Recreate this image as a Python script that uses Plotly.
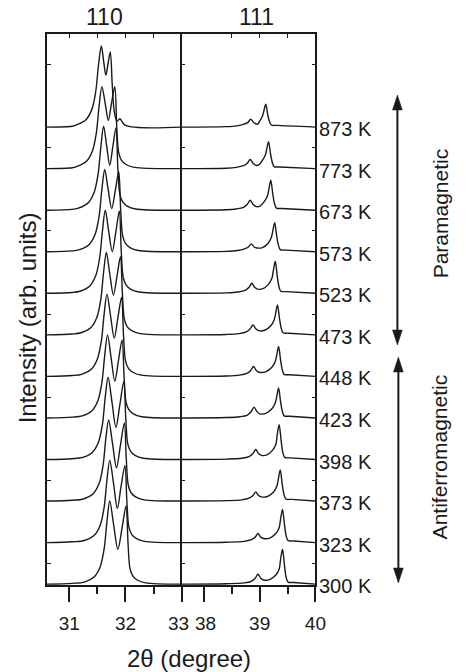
import plotly.graph_objects as go

# ---------------- data ----------------
temperatures = [300, 323, 373, 398, 423, 448, 473, 523, 573, 673, 773, 873]
temp_labels = [f"{t} K" for t in temperatures]
stack_offset = [0, 1, 2, 3, 4, 5, 6, 7, 8, 9, 10, 11]

# (110) reflection, 2theta and intensity above each curve's own baseline
left_x = [
    [30.6, 31.05, 31.27, 31.44, 31.55, 31.62, 31.67, 31.72, 31.79, 31.865, 31.94, 32.01, 32.045, 32.08, 32.13, 32.21, 32.36, 33.0],
    [30.6, 31.05, 31.27, 31.44, 31.55, 31.62, 31.67, 31.72, 31.79, 31.855, 31.92, 31.99, 32.025, 32.06, 32.11, 32.19, 32.34, 33.0],
    [30.6, 31.05, 31.25, 31.42, 31.53, 31.60, 31.65, 31.70, 31.77, 31.84, 31.91, 31.98, 32.015, 32.05, 32.10, 32.18, 32.33, 33.0],
    [30.6, 31.05, 31.24, 31.41, 31.52, 31.59, 31.64, 31.69, 31.76, 31.83, 31.90, 31.97, 32.005, 32.04, 32.09, 32.17, 32.32, 33.0],
    [30.6, 31.05, 31.23, 31.40, 31.51, 31.58, 31.63, 31.68, 31.745, 31.81, 31.875, 31.94, 31.975, 32.01, 32.06, 32.14, 32.29, 33.0],
    [30.6, 31.05, 31.22, 31.39, 31.50, 31.57, 31.62, 31.67, 31.735, 31.80, 31.865, 31.93, 31.965, 32.00, 32.05, 32.13, 32.28, 33.0],
    [30.6, 31.05, 31.21, 31.38, 31.49, 31.56, 31.61, 31.66, 31.72, 31.785, 31.85, 31.91, 31.945, 31.98, 32.03, 32.11, 32.26, 33.0],
    [30.6, 31.05, 31.19, 31.36, 31.47, 31.54, 31.59, 31.64, 31.70, 31.765, 31.83, 31.89, 31.925, 31.96, 32.01, 32.09, 32.24, 33.0],
    [30.6, 31.05, 31.18, 31.35, 31.46, 31.53, 31.58, 31.63, 31.69, 31.755, 31.82, 31.88, 31.915, 31.95, 32.00, 32.08, 32.23, 33.0],
    [30.6, 31.05, 31.16, 31.33, 31.44, 31.51, 31.56, 31.61, 31.665, 31.72, 31.775, 31.83, 31.865, 31.90, 31.95, 32.03, 32.18, 33.0],
    [30.6, 31.05, 31.13, 31.30, 31.41, 31.48, 31.53, 31.58, 31.64, 31.695, 31.75, 31.81, 31.845, 31.88, 31.93, 32.01, 32.16, 33.0],
    [30.6, 31.05, 31.12, 31.29, 31.40, 31.47, 31.52, 31.57, 31.61, 31.65, 31.69, 31.73, 31.765, 31.80, 31.85, 31.90, 32.00, 33.0],
]
left_y = [
    [0, 0.02, 0.05, 0.17, 0.42, 0.85, 1.5, 2.00, 1.42, 0.84, 1.36, 1.88, 1.0, 0.38, 0.2, 0.1, 0.03, 0],
    [0, 0.02, 0.05, 0.17, 0.42, 0.85, 1.5, 1.98, 1.40, 0.82, 1.34, 1.86, 1.0, 0.38, 0.2, 0.1, 0.03, 0],
    [0, 0.02, 0.05, 0.17, 0.42, 0.85, 1.5, 1.95, 1.38, 0.80, 1.34, 1.88, 1.0, 0.38, 0.2, 0.1, 0.03, 0],
    [0, 0.02, 0.05, 0.17, 0.42, 0.85, 1.5, 1.98, 1.38, 0.77, 1.32, 1.88, 1.0, 0.38, 0.2, 0.1, 0.03, 0],
    [0, 0.02, 0.05, 0.17, 0.42, 0.85, 1.5, 2.00, 1.44, 0.88, 1.38, 1.88, 1.0, 0.38, 0.2, 0.1, 0.03, 0],
    [0, 0.02, 0.05, 0.17, 0.42, 0.85, 1.5, 1.98, 1.45, 0.92, 1.41, 1.90, 1.0, 0.38, 0.2, 0.1, 0.03, 0],
    [0, 0.02, 0.05, 0.17, 0.42, 0.85, 1.5, 1.98, 1.47, 0.96, 1.42, 1.88, 1.0, 0.38, 0.2, 0.1, 0.03, 0],
    [0, 0.02, 0.05, 0.17, 0.42, 0.85, 1.5, 2.00, 1.50, 1.00, 1.49, 1.98, 1.0, 0.38, 0.2, 0.1, 0.03, 0],
    [0, 0.02, 0.05, 0.17, 0.42, 0.85, 1.5, 1.98, 1.51, 1.04, 1.48, 1.93, 1.0, 0.38, 0.2, 0.1, 0.03, 0],
    [0, 0.02, 0.05, 0.17, 0.42, 0.85, 1.5, 2.02, 1.55, 1.08, 1.53, 1.98, 1.0, 0.38, 0.2, 0.1, 0.03, 0],
    [0, 0.02, 0.05, 0.17, 0.42, 0.85, 1.5, 1.97, 1.56, 1.16, 1.56, 1.97, 1.0, 0.38, 0.2, 0.1, 0.03, 0],
    [0, 0.02, 0.05, 0.17, 0.42, 0.85, 1.5, 1.95, 1.60, 1.25, 1.53, 1.81, 1.0, 0.38, 0.14, 0.2, 0.04, 0],
]

# (111) reflection
right_x = [
    [37.6, 38.4, 38.72, 38.85, 38.92, 38.97, 39.02, 39.07, 39.18, 39.29, 39.35, 39.375, 39.41, 39.445, 39.475, 39.51, 39.61, 40.0],
    [37.6, 38.4, 38.72, 38.85, 38.92, 38.97, 39.02, 39.07, 39.18, 39.29, 39.35, 39.375, 39.41, 39.445, 39.475, 39.51, 39.61, 40.0],
    [37.6, 38.4, 38.68, 38.81, 38.88, 38.93, 38.98, 39.03, 39.14, 39.25, 39.31, 39.335, 39.37, 39.405, 39.435, 39.47, 39.57, 40.0],
    [37.6, 38.4, 38.68, 38.81, 38.88, 38.93, 38.98, 39.03, 39.13, 39.23, 39.29, 39.315, 39.35, 39.385, 39.415, 39.45, 39.55, 40.0],
    [37.6, 38.4, 38.65, 38.78, 38.85, 38.90, 38.95, 39.00, 39.11, 39.22, 39.28, 39.305, 39.34, 39.375, 39.405, 39.44, 39.54, 40.0],
    [37.6, 38.4, 38.64, 38.77, 38.84, 38.89, 38.94, 38.99, 39.105, 39.22, 39.28, 39.305, 39.34, 39.375, 39.405, 39.44, 39.54, 40.0],
    [37.6, 38.4, 38.63, 38.76, 38.83, 38.88, 38.93, 38.98, 39.09, 39.20, 39.26, 39.285, 39.32, 39.355, 39.385, 39.42, 39.52, 40.0],
    [37.6, 38.4, 38.61, 38.74, 38.81, 38.86, 38.91, 38.96, 39.06, 39.16, 39.22, 39.245, 39.28, 39.315, 39.345, 39.38, 39.48, 40.0],
    [37.6, 38.4, 38.60, 38.73, 38.80, 38.85, 38.90, 38.95, 39.05, 39.15, 39.21, 39.235, 39.27, 39.305, 39.335, 39.37, 39.47, 40.0],
    [37.6, 38.4, 38.58, 38.71, 38.78, 38.83, 38.88, 38.93, 39.005, 39.08, 39.14, 39.165, 39.20, 39.235, 39.265, 39.30, 39.40, 40.0],
    [37.6, 38.4, 38.58, 38.71, 38.78, 38.83, 38.88, 38.93, 38.985, 39.04, 39.10, 39.125, 39.16, 39.195, 39.225, 39.26, 39.36, 40.0],
    [37.6, 38.4, 38.59, 38.72, 38.79, 38.84, 38.89, 38.94, 38.965, 38.99, 39.05, 39.075, 39.11, 39.145, 39.175, 39.21, 39.31, 40.0],
]
right_y = [
    [0, 0.01, 0.03, 0.07, 0.144, 0.24, 0.144, 0.10, 0.11, 0.22, 0.36, 0.59, 0.84, 0.46, 0.17, 0.05, 0.04, 0],
    [0, 0.01, 0.03, 0.07, 0.132, 0.22, 0.132, 0.10, 0.11, 0.22, 0.36, 0.56, 0.80, 0.44, 0.17, 0.05, 0.04, 0],
    [0, 0.01, 0.03, 0.07, 0.132, 0.22, 0.132, 0.10, 0.11, 0.22, 0.36, 0.525, 0.75, 0.41, 0.17, 0.05, 0.04, 0],
    [0, 0.01, 0.03, 0.07, 0.144, 0.24, 0.144, 0.10, 0.11, 0.22, 0.36, 0.59, 0.84, 0.46, 0.17, 0.05, 0.04, 0],
    [0, 0.01, 0.03, 0.07, 0.156, 0.26, 0.156, 0.10, 0.11, 0.22, 0.36, 0.50, 0.72, 0.40, 0.17, 0.05, 0.04, 0],
    [0, 0.01, 0.03, 0.07, 0.144, 0.24, 0.144, 0.10, 0.11, 0.22, 0.36, 0.50, 0.72, 0.40, 0.17, 0.05, 0.04, 0],
    [0, 0.01, 0.03, 0.07, 0.144, 0.24, 0.144, 0.10, 0.11, 0.22, 0.36, 0.50, 0.72, 0.40, 0.17, 0.05, 0.04, 0],
    [0, 0.01, 0.03, 0.07, 0.144, 0.24, 0.144, 0.10, 0.11, 0.22, 0.36, 0.54, 0.77, 0.42, 0.17, 0.05, 0.04, 0],
    [0, 0.01, 0.03, 0.07, 0.114, 0.19, 0.114, 0.09, 0.10, 0.20, 0.34, 0.49, 0.70, 0.385, 0.17, 0.05, 0.04, 0],
    [0, 0.01, 0.03, 0.07, 0.144, 0.24, 0.144, 0.09, 0.10, 0.20, 0.34, 0.50, 0.72, 0.40, 0.17, 0.05, 0.04, 0],
    [0, 0.01, 0.03, 0.07, 0.132, 0.22, 0.132, 0.08, 0.09, 0.18, 0.32, 0.455, 0.65, 0.36, 0.16, 0.05, 0.04, 0],
    [0, 0.01, 0.03, 0.07, 0.114, 0.19, 0.114, 0.07, 0.07, 0.12, 0.26, 0.385, 0.55, 0.30, 0.14, 0.05, 0.04, 0],
]

reflection_labels = ["110", "111"]
phase_labels = ["Paramagnetic", "Antiferromagnetic"]
left_ticks = [31, 32, 33]
left_ticktext = ["31", "32", ""]       # "33" placed separately below
left_minor = [31.5, 32.5]
right_ticks = [38, 39, 40]
right_ticktext = ["", "39", "40"]      # "38" placed separately below
right_minor = [38.5, 39.5]
y_ticks = [0.5, 2.5, 4.5, 6.5, 8.5, 10.5, 12.5]

# ---------------- layout helpers ----------------
W, H = 466, 672
FONT = "Liberation Sans, Arial, Helvetica, sans-serif"
INK = "#1a1a1a"


def px(x):
    return x / W


def py(y):
    return 1 - y / H


fig = go.Figure()

for i in range(len(temperatures)):
    off = stack_offset[i]
    fig.add_trace(go.Scatter(
        x=left_x[i], y=[v + off for v in left_y[i]], mode="lines",
        line=dict(color=INK, width=1.4, shape="spline", smoothing=0.9),
        xaxis="x", yaxis="y", showlegend=False, hoverinfo="skip"))
    fig.add_trace(go.Scatter(
        x=right_x[i], y=[v + off for v in right_y[i]], mode="lines",
        line=dict(color=INK, width=1.4, shape="spline", smoothing=0.9),
        xaxis="x2", yaxis="y2", showlegend=False, hoverinfo="skip"))

# empty traces so the top-tick overlay axes are drawn
fig.add_trace(go.Scatter(x=[None], y=[None], xaxis="x3", yaxis="y", showlegend=False))
fig.add_trace(go.Scatter(x=[None], y=[None], xaxis="x4", yaxis="y2", showlegend=False))

y_range = [-0.02, 13.24]
dom_x1 = [px(48), px(186)]
dom_x2 = [px(186), px(323)]
dom_y = [py(585), py(34)]

common_x = dict(showline=True, linecolor=INK, linewidth=1.5, mirror=True,
                ticks="outside", ticklen=15, tickwidth=1.5, tickcolor=INK,
                showgrid=False, zeroline=False,
                tickfont=dict(family=FONT, size=19, color=INK),
                ticklabelstandoff=5)
common_y = dict(showline=True, linecolor=INK, linewidth=1.5,
                ticks="inside", ticklen=4, tickwidth=1.2, tickcolor=INK,
                tickvals=y_ticks, showticklabels=False, showgrid=False,
                zeroline=False, range=y_range, domain=dom_y)
top_x = dict(side="top", ticks="inside", ticklen=4, tickwidth=1.2, tickcolor=INK,
             showticklabels=False, showline=False, showgrid=False, zeroline=False)

fig.update_layout(
    width=W, height=H,
    margin=dict(l=0, r=0, t=0, b=0),
    paper_bgcolor="white", plot_bgcolor="white",
    xaxis=dict(domain=dom_x1, range=[30.6, 33.0], anchor="y", tickvals=left_ticks,
               ticktext=left_ticktext,
               minor=dict(tickvals=left_minor, ticks="outside", ticklen=7,
                          tickwidth=1.5, tickcolor=INK), **common_x),
    xaxis2=dict(domain=dom_x2, range=[37.6, 40.0], anchor="y2", tickvals=right_ticks,
                ticktext=right_ticktext,
                minor=dict(tickvals=right_minor, ticks="outside", ticklen=7,
                           tickwidth=1.5, tickcolor=INK), **common_x),
    xaxis3=dict(overlaying="x", anchor="y", range=[30.6, 33.0],
                tickvals=left_ticks[:-1] + left_minor, **top_x),
    xaxis4=dict(overlaying="x2", anchor="y2", range=[37.6, 40.0],
                tickvals=right_ticks[1:-1] + right_minor, **top_x),
    yaxis=dict(anchor="x", mirror=False, **common_y),
    yaxis2=dict(anchor="x2", mirror="ticks", **common_y),
    font=dict(family=FONT, color=INK),
)

ann = []
# the two tick labels that meet at the panel junction, nudged apart
ann.append(dict(text=str(left_ticks[-1]), xref="x", yref="paper", x=left_ticks[-1], y=py(623),
                xanchor="center", yanchor="middle", xshift=-3, showarrow=False,
                font=dict(family=FONT, size=19, color=INK)))
ann.append(dict(text=str(right_ticks[0]), xref="x2", yref="paper", x=right_ticks[0], y=py(623),
                xanchor="center", yanchor="middle", xshift=2, showarrow=False,
                font=dict(family=FONT, size=19, color=INK)))
# temperature labels at the right of the (111) panel
for i, lab in enumerate(temp_labels):
    ann.append(dict(text=lab, xref="paper", yref="y2", x=px(325), y=stack_offset[i],
                    xanchor="left", yanchor="middle", yshift=-2, showarrow=False,
                    font=dict(family=FONT, size=20, color=INK)))
# reflection titles
ann.append(dict(text=reflection_labels[0], xref="paper", yref="paper", x=px(107), y=py(17),
                xanchor="center", yanchor="middle", showarrow=False,
                font=dict(family=FONT, size=23, color=INK)))
ann.append(dict(text=reflection_labels[1], xref="paper", yref="paper", x=px(263), y=py(17),
                xanchor="center", yanchor="middle", showarrow=False,
                font=dict(family=FONT, size=23, color=INK)))
# axis titles
ann.append(dict(text="2θ (degree)", xref="paper", yref="paper", x=px(194), y=py(658),
                xanchor="center", yanchor="middle", showarrow=False,
                font=dict(family=FONT, size=24, color=INK)))
ann.append(dict(text="Intensity (arb. units)", xref="paper", yref="paper", x=px(28), y=py(318),
                xanchor="center", yanchor="middle", textangle=-90, showarrow=False,
                font=dict(family=FONT, size=24, color=INK)))
# phase labels
ann.append(dict(text=phase_labels[0], xref="paper", yref="paper", x=px(451), y=py(213),
                xanchor="center", yanchor="middle", textangle=-90, showarrow=False,
                font=dict(family=FONT, size=21, color=INK)))
ann.append(dict(text=phase_labels[1], xref="paper", yref="paper", x=px(450), y=py(457),
                xanchor="center", yanchor="middle", textangle=-90, showarrow=False,
                font=dict(family=FONT, size=21, color=INK)))
fig.update_layout(annotations=ann)

# double-headed arrows
shapes = []
for (xa, top, bot) in [(407, 95, 345), (408, 357, 583)]:
    hl, hw = 15, 5
    shapes.append(dict(type="line", xref="paper", yref="paper",
                       x0=px(xa), x1=px(xa), y0=py(top + hl - 2), y1=py(bot - hl + 2),
                       line=dict(color=INK, width=2)))
    shapes.append(dict(type="path", xref="paper", yref="paper",
                       path=f"M {px(xa)},{py(top)} L {px(xa - hw)},{py(top + hl)} L {px(xa + hw)},{py(top + hl)} Z",
                       fillcolor=INK, line=dict(color=INK, width=0.5)))
    shapes.append(dict(type="path", xref="paper", yref="paper",
                       path=f"M {px(xa)},{py(bot)} L {px(xa - hw)},{py(bot - hl)} L {px(xa + hw)},{py(bot - hl)} Z",
                       fillcolor=INK, line=dict(color=INK, width=0.5)))
fig.update_layout(shapes=shapes)

fig.write_html("out.html")
